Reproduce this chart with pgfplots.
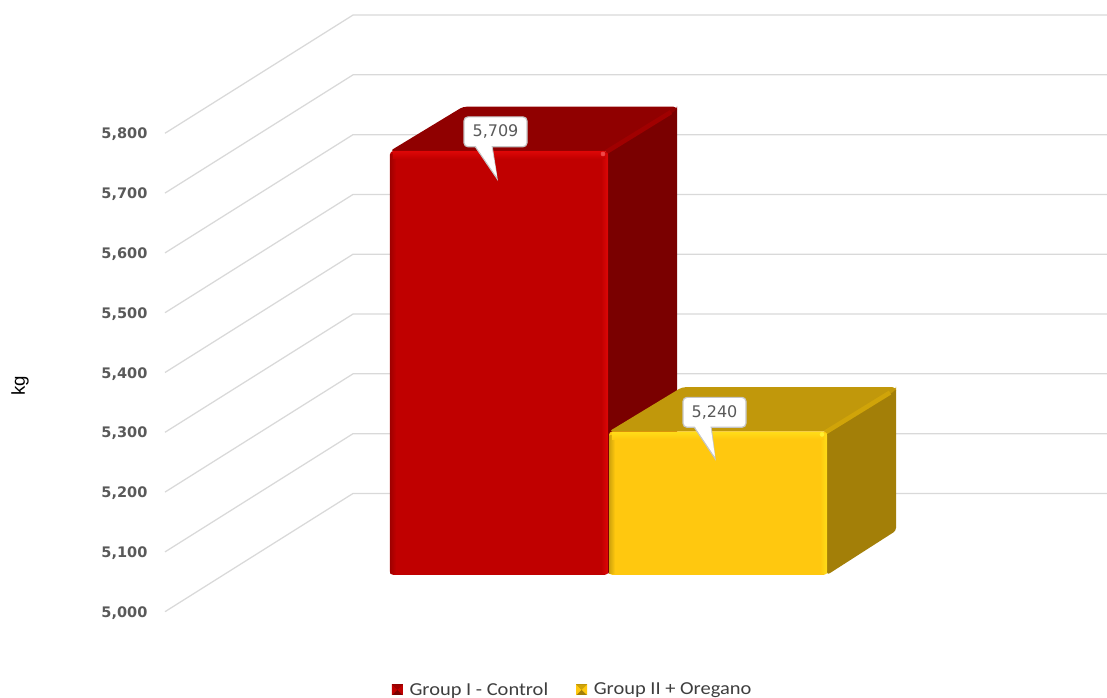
\documentclass[border=0pt]{standalone}
\usepackage{pgfplots}
\usepackage{fontspec}
\pgfplotsset{compat=1.18}
\setmainfont{DejaVu Sans}
\newfontfamily\legendfont[FakeStretch=1.12]{Carlito}
\newfontfamily\kgfont{Liberation Sans}

% colour sets for the two bars
\definecolor{gridgrey}{HTML}{D9D9D9}
\definecolor{labelgrey}{HTML}{595959}
\definecolor{redfront}{HTML}{C00000}
\definecolor{redtop}{HTML}{900000}
\definecolor{redside}{HTML}{7A0000}
\definecolor{redhi}{HTML}{DC0606}
\definecolor{reddark}{HTML}{A00000}
\definecolor{redband}{HTML}{A00000}
\definecolor{redspot}{HTML}{F04848}
\definecolor{goldfront}{HTML}{FFC80F}
\definecolor{goldtop}{HTML}{C1980B}
\definecolor{goldside}{HTML}{A37F08}
\definecolor{goldhi}{HTML}{FFDC18}
\definecolor{golddark}{HTML}{D0A40C}
\definecolor{goldband}{HTML}{D0A409}
\definecolor{goldspot}{HTML}{FFF030}

\pgfplotsset{
  swatch/.style n args={3}{
    legend image code/.code={
      \begin{scope}[sharp corners]
      \fill[#1] (0pt,-4pt) rectangle (8.2pt,4pt);
      \fill[#2] (0pt,-4pt) -- (4.1pt,0pt) -- (0pt,4pt) -- cycle;
      \fill[#3] (0pt,4pt) -- (4.1pt,0pt) -- (8.2pt,4pt) -- cycle;
      \fill[#2] (8.2pt,-4pt) -- (4.1pt,0pt) -- (8.2pt,4pt) -- cycle;
      \end{scope}
    }
  },
  redswatch/.style={swatch={redside}{redfront}{reddark}},
  goldswatch/.style={swatch={goldside}{goldfront}{goldband}},
}

% One bar: #1 left x, #2 right x, #3 value, #4 colour set
\newcommand{\threedbar}[4]{%
  \pgfmathsetmacro\xback{#2+69}%
  \pgfmathsetmacro\xleft{#1+73}%
  \pgfmathsetmacro\vback{#3+74}%
  \addplot[forget plot,draw=none,fill=#4side,rounded corners=2.2pt] coordinates
    {(#2,5000) (\xback,5074) (\xback,\vback) (#2,#3)} -- cycle;
  \addplot[forget plot,draw=none,fill=#4top,rounded corners=2.6pt] coordinates
    {(#1,#3) (\xleft,\vback) (\xback,\vback) (\xback,\vback-5) (#2,#3)} -- cycle;
  \addplot[forget plot,#4band,line width=3.4pt] coordinates
    {(#2-2,#3-2) (\xback-6,\vback-9)};
  \addplot[#4swatch,draw=none,fill=#4front,rounded corners=2.6pt] coordinates
    {(#1,5000) (#1,#3) (#2,#3) (#2,5000)} -- cycle;
  \addplot[forget plot,draw=none,left color=#4dark,right color=#4front] coordinates
    {(#1+0.3,5003) (#1+0.3,#3-6) (#1+6,#3-6) (#1+6,5003)} -- cycle;
  \addplot[forget plot,draw=none,left color=#4front,right color=#4hi] coordinates
    {(#2-7,5002) (#2-7,#3-4) (#2-0.5,#3-4) (#2-0.5,5002)} -- cycle;
  \addplot[forget plot,draw=none,top color=#4hi,bottom color=#4front] coordinates
    {(#1+3,#3-1) (#2-3,#3-1) (#2-3,#3-13) (#1+3,#3-13)} -- cycle;
  \addplot[forget plot,only marks,mark=*,mark size=1.5pt,color=#4spot] coordinates
    {(#2-5,#3-5)};
}

% Callout with its value: #1 box left x, #2 box bottom, #3 box top, #4 tail tip x, #5 tail tip y, #6 text
\newcommand{\callout}[6]{%
  \pgfmathsetmacro\xright{#1+63}%
  \addplot[forget plot,draw=gray!45,line width=0.9pt,fill=white] coordinates
    {(#1+11,#2+1) (#4,#5) (#1+28,#2+1)} -- cycle;
  \addplot[forget plot,draw=gray!45,line width=0.9pt,fill=white,rounded corners=3pt] coordinates
    {(#1,#2) (#1,#3) (\xright,#3) (\xright,#2)} -- cycle;
  \addplot[forget plot,draw=none,fill=white] coordinates
    {(#1+11.6,#2+2) (#4,#5+3) (#1+27.4,#2+2)} -- cycle;
  \node[text=labelgrey,font=\fontsize{12pt}{14pt}\selectfont,inner sep=0pt]
    at (axis cs:#1+31.5,{(#2+#3)/2}) {#6};
}

\begin{document}
\begin{tikzpicture}
\useasboundingbox (-123.75pt,0pt) rectangle (706.5pt,523.5pt);
\begin{axis}[
  scale only axis,
  width=706.5pt, height=523.5pt,
  xmin=165, xmax=1107,
  ymin=4794.3, ymax=5961.5,
  clip=false,
  axis line style={draw=none},
  major tick length=0pt,
  xtick=\empty,
  ytick={4938.6,5038.6,5138.6,5238.6,5338.6,5438.6,5538.6,5638.6,5738.6},
  yticklabels={{5,000},{5,100},{5,200},{5,300},{5,400},{5,500},{5,600},{5,700},{5,800}},
  yticklabel style={font=\bfseries\fontsize{10.9pt}{13pt}\selectfont,
    text=labelgrey,anchor=east,xshift=-13pt,yshift=-0.9pt,inner sep=0pt},
  /pgf/number format/assume math mode=true,
  ylabel={\kgfont kg},
  every axis y label/.style={at={(axis cs:20,5316)},rotate=90,anchor=center,
    font=\fontsize{14pt}{16pt}\selectfont},
  legend columns=2,
  legend style={at={(axis cs:573,4808)},anchor=center,draw=none,fill=none,
    font=\legendfont\fontsize{13.7pt}{15pt}\selectfont,text=labelgrey!70!black,
    /tikz/every odd column/.style={column sep=3pt},
    /tikz/every even column/.style={column sep=19pt},
    inner sep=0pt},
]
% receding and back-wall gridlines, one per axis value
\addplot[forget plot,gridgrey,line width=0.95pt] coordinates {(165,4938.6) (353,5136.3) (1107,5136.3)};
\addplot[forget plot,gridgrey,line width=0.95pt] coordinates {(165,5038.6) (353,5236.3) (1107,5236.3)};
\addplot[forget plot,gridgrey,line width=0.95pt] coordinates {(165,5138.6) (353,5336.3) (1107,5336.3)};
\addplot[forget plot,gridgrey,line width=0.95pt] coordinates {(165,5238.6) (353,5436.3) (1107,5436.3)};
\addplot[forget plot,gridgrey,line width=0.95pt] coordinates {(165,5338.6) (353,5536.3) (1107,5536.3)};
\addplot[forget plot,gridgrey,line width=0.95pt] coordinates {(165,5438.6) (353,5636.3) (1107,5636.3)};
\addplot[forget plot,gridgrey,line width=0.95pt] coordinates {(165,5538.6) (353,5736.3) (1107,5736.3)};
\addplot[forget plot,gridgrey,line width=0.95pt] coordinates {(165,5638.6) (353,5836.3) (1107,5836.3)};
\addplot[forget plot,gridgrey,line width=0.95pt] coordinates {(165,5738.6) (353,5936.3) (1107,5936.3)};

\threedbar{390}{608}{5709}{red}
\addlegendentry{Group I - Control}
\threedbar{609}{827}{5240}{gold}
\addlegendentry{Group II + Oregano}

\callout{464}{5716}{5766}{497}{5663}{5,709}
\callout{683}{5247}{5297}{715}{5195}{5,240}
\end{axis}
\end{tikzpicture}
\end{document}
